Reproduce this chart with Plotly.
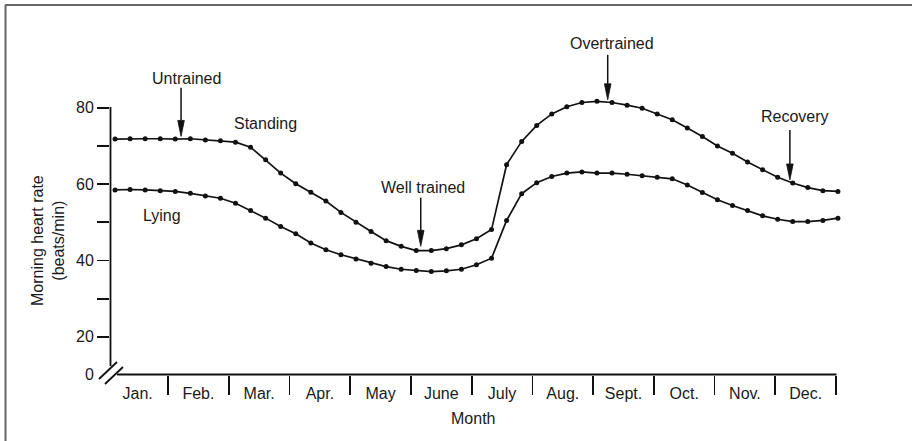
import plotly.graph_objects as go

# ---------------- data ----------------
months = ["Jan.", "Feb.", "Mar.", "Apr.", "May", "June", "July",
          "Aug.", "Sept.", "Oct.", "Nov.", "Dec."]
weeks = list(range(49))  # weekly measurements through the year

standing = [71.8, 71.9, 71.9, 71.9, 71.8, 71.9, 71.6, 71.4, 71.0, 69.7,
            66.4, 62.9, 60.1, 57.9, 55.6, 52.6, 50.0, 47.6, 45.2, 43.7,
            42.6, 42.6, 43.1, 44.1, 45.7, 48.1, 65.1, 71.2, 75.4, 78.4,
            80.3, 81.4, 81.7, 81.4, 80.7, 79.9, 78.4, 76.9, 74.7, 72.5,
            70.0, 68.1, 65.8, 63.8, 61.8, 60.3, 59.1, 58.3, 58.1]
lying = [58.5, 58.6, 58.5, 58.3, 58.1, 57.6, 56.9, 56.3, 55.0, 53.1,
         51.1, 48.9, 47.0, 44.6, 42.8, 41.5, 40.4, 39.3, 38.4, 37.7,
         37.4, 37.1, 37.3, 37.7, 38.9, 40.6, 50.5, 57.5, 60.4, 62.0,
         62.9, 63.2, 62.9, 62.9, 62.6, 62.2, 61.8, 61.4, 59.8, 57.8,
         55.9, 54.4, 53.1, 51.7, 50.8, 50.2, 50.2, 50.5, 51.1]
ytick_vals = [20, 40, 60, 80]
ytick_minor = [30, 50, 70]

# phases: label, tip (month position, bpm)
phases = [("Untrained", 1.214, 72.5), ("Well trained", 5.161, 43.7),
          ("Overtrained", 8.240, 82.1), ("Recovery", 11.24, 61.1)]

# ---------------- geometry ----------------
W, H = 912, 441
L, R, T, B = 110, 62, 30, 66
XR = [0.044, 12.23]
YR = [10.0, 100.39]
pw, ph = W - L - R, H - T - B
px_per_x = pw / (XR[1] - XR[0])
px_per_y = ph / (YR[1] - YR[0])

def px2paper_x(px):
    return (px - L) / pw

def py2paper_y(py):
    return 1 - (py - T) / ph

x_week = [0.127 + 0.248 * w for w in weeks]
x_centers = [i + 0.5 for i in range(len(months))]
x_edges = [i + 1 for i in range(len(months))]

FONT = "Arial, 'Liberation Sans', Helvetica, sans-serif"
TXT = "#1a1a1a"
INK = "#111111"

fig = go.Figure()
for name, vals in [("Standing", standing), ("Lying", lying)]:
    fig.add_trace(go.Scatter(
        x=x_week, y=vals, mode="lines+markers", name=name,
        line=dict(color=INK, width=1.7),
        marker=dict(color=INK, size=5),
        showlegend=False, hoverinfo="skip"))

shapes = []
annotations = []

# frame (top and left edges)
shapes.append(dict(type="line", xref="paper", yref="paper",
                   x0=px2paper_x(5), x1=px2paper_x(912),
                   y0=py2paper_y(5), y1=py2paper_y(5),
                   line=dict(color="#666666", width=2)))
shapes.append(dict(type="line", xref="paper", yref="paper",
                   x0=px2paper_x(5.5), x1=px2paper_x(5.5),
                   y0=py2paper_y(5), y1=py2paper_y(441),
                   line=dict(color="#666666", width=2)))

# y-axis line (stops at break)
shapes.append(dict(type="line", xref="paper", yref="paper",
                   x0=px2paper_x(110.5), x1=px2paper_x(110.5),
                   y0=py2paper_y(107), y1=py2paper_y(366),
                   line=dict(color=INK, width=1.8)))
# x-axis line
shapes.append(dict(type="line", xref="paper", yref="paper",
                   x0=px2paper_x(117), x1=px2paper_x(836.5),
                   y0=py2paper_y(374.5), y1=py2paper_y(374.5),
                   line=dict(color=INK, width=1.8)))
# axis break slashes
for (xa, ya, xb, yb) in [(99, 379, 117, 362), (105, 384, 123, 367)]:
    shapes.append(dict(type="line", xref="paper", yref="paper",
                       x0=px2paper_x(xa), x1=px2paper_x(xb),
                       y0=py2paper_y(ya), y1=py2paper_y(yb),
                       line=dict(color=INK, width=1.8)))

# phase arrows
shaft_px = {"Untrained": 48.7, "Well trained": 48.7, "Overtrained": 45, "Recovery": 50}
label_gap = {"Untrained": (5.7, 58.4), "Well trained": (2.6, 58.4),
             "Overtrained": (4.0, 56.7), "Recovery": (5.0, 63.3)}
head_len, head_half = 16, 3.3
for name, tx, ty in phases:
    top = ty + shaft_px[name] / px_per_y
    hb = ty + head_len / px_per_y
    hw = head_half / px_per_x
    shapes.append(dict(type="line", xref="x", yref="y",
                       x0=tx, x1=tx, y0=top, y1=hb,
                       line=dict(color=INK, width=1.5)))
    shapes.append(dict(type="path", xref="x", yref="y",
                       path=f"M{tx},{ty} L{tx - hw},{hb} L{tx + hw},{hb} Z",
                       fillcolor=INK, line=dict(color=INK, width=0.8)))
    dx, dy = label_gap[name]
    annotations.append(dict(x=tx + dx / px_per_x, y=ty + dy / px_per_y,
                            xref="x", yref="y", text=name, showarrow=False,
                            xanchor="center", yanchor="middle",
                            font=dict(family=FONT, size=16, color=TXT)))

# curve labels
annotations.append(dict(x=(265 - 107.3) / 60.73, y=80 - (124 - 108) / 3.817,
                        xref="x", yref="y", text="Standing", showarrow=False,
                        xanchor="center", yanchor="middle",
                        font=dict(family=FONT, size=16, color=TXT)))
annotations.append(dict(x=(161.7 - 107.3) / 60.73, y=80 - (216 - 108) / 3.817,
                        xref="x", yref="y", text="Lying", showarrow=False,
                        xanchor="center", yanchor="middle",
                        font=dict(family=FONT, size=16, color=TXT)))

# "0" label at axis break
annotations.append(dict(x=px2paper_x(89), y=py2paper_y(374), xref="paper", yref="paper",
                        text="0", showarrow=False, xanchor="center", yanchor="middle",
                        font=dict(family=FONT, size=16, color=TXT)))
# axis titles
annotations.append(dict(x=(473 - 107.3) / 60.73, y=py2paper_y(418), xref="x", yref="paper",
                        text="Month", showarrow=False, xanchor="center", yanchor="middle",
                        font=dict(family=FONT, size=16, color=TXT)))
annotations.append(dict(x=px2paper_x(48), y=py2paper_y(241), xref="paper", yref="paper",
                        text="Morning heart rate<br>(beats/min)", textangle=-90,
                        showarrow=False, xanchor="center", yanchor="middle",
                        font=dict(family=FONT, size=16, color=TXT)))

fig.update_layout(
    width=W, height=H,
    margin=dict(l=L, r=R, t=T, b=B, pad=0),
    paper_bgcolor="white", plot_bgcolor="white",
    font=dict(family=FONT, size=16, color=TXT),
    shapes=shapes, annotations=annotations,
    xaxis=dict(range=XR, showgrid=False, zeroline=False, showline=False,
               tickmode="array", tickvals=x_centers, ticktext=months,
               ticks="outside", ticklen=4, tickcolor="rgba(0,0,0,0)",
               tickfont=dict(family=FONT, size=16, color=TXT),
               minor=dict(tickmode="array", tickvals=x_edges, ticks="outside",
                          ticklen=19, tickwidth=1.8, tickcolor=INK, showgrid=False)),
    yaxis=dict(range=YR, showgrid=False, zeroline=False, showline=False,
               tickmode="array", tickvals=ytick_vals,
               ticks="outside", ticklen=12, tickwidth=1.8, tickcolor=INK,
               tickfont=dict(family=FONT, size=16, color=TXT),
               minor=dict(tickmode="array", tickvals=ytick_minor, ticks="outside",
                          ticklen=12, tickwidth=1.8, tickcolor=INK, showgrid=False)),
)

fig.write_html("out.html",
               config={"displayModeBar": False, "staticPlot": True},
               post_script="document.body.style.margin='0';document.body.style.overflow='hidden';")
